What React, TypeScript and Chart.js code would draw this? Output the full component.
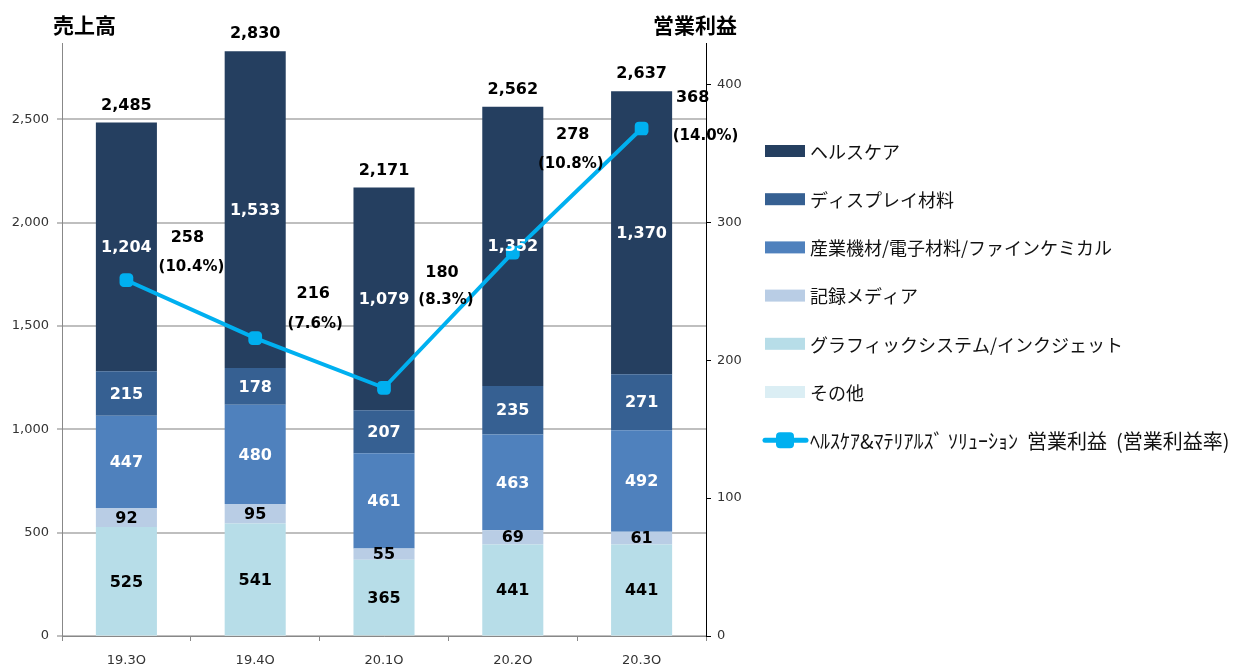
import React, { useEffect, useRef } from "react";
import { Chart, registerables } from "chart.js";

Chart.register(...registerables);

// ---- data ----
const categories = ["19.3Q", "19.4Q", "20.1Q", "20.2Q", "20.3Q"];
const healthcare = [1204, 1533, 1079, 1352, 1370];
const displayMaterials = [215, 178, 207, 235, 271];
const industrial = [447, 480, 461, 463, 492];
const recordingMedia = [92, 95, 55, 69, 61];
const graphicSystems = [525, 541, 365, 441, 441];
const others = [2, 3, 4, 2, 2];
const salesTotals = [2485, 2830, 2171, 2562, 2637];
const operatingProfit = [258, 216, 180, 278, 368];
const operatingMargin = [10.4, 7.6, 8.3, 10.8, 14.0];
const leftTickValues = [0, 500, 1000, 1500, 2000, 2500];
const rightTickValues = [0, 100, 200, 300, 400];

const leftAxisMax = 2870;
const rightAxisMax = 430;

// ---- styles (label placement relative to each line point: [numDx, numDy, pctDx, pctDy]) ----
const profitLabelOffsets = [
  [61, -42, 65, -13],
  [58, -44, 60, -14],
  [58, -115, 62, -88],
  [60, -118, 58, -89],
  [51, -31, 64, 8],
];

const NUM_FONT = "'DejaVu Sans', Verdana, sans-serif";
const JP_FONT = "'Noto Sans CJK JP', sans-serif";
const LINE_COLOR = "#00B0F0";

const fmt = (v: number) => v.toLocaleString("en-US");

const barSeries = [
  { label: "その他", data: others, color: "#DBEEF4", text: "" },
  { label: "グラフィックシステム/インクジェット", data: graphicSystems, color: "#B7DDE8", text: "#000" },
  { label: "記録メディア", data: recordingMedia, color: "#B9CDE5", text: "#000" },
  { label: "産業機材/電子材料/ファインケミカル", data: industrial, color: "#4F81BD", text: "#fff" },
  { label: "ディスプレイ材料", data: displayMaterials, color: "#366092", text: "#fff" },
  { label: "ヘルスケア", data: healthcare, color: "#253F60", text: "#fff" },
];
const lineLabel = "ﾍﾙｽｹｱ&ﾏﾃﾘｱﾙｽﾞ ｿﾘｭｰｼｮﾝ  営業利益  (営業利益率)";

const labelsPlugin = {
  id: "customLabels",
  afterDatasetsDraw(chart: any) {
    const ctx = chart.ctx as CanvasRenderingContext2D;
    ctx.save();
    ctx.textAlign = "center";
    ctx.textBaseline = "middle";
    const nBars = barSeries.length;
    // segment labels
    for (let i = 0; i < nBars; i++) {
      const s = barSeries[i];
      if (!s.text) continue;
      const meta = chart.getDatasetMeta(i);
      meta.data.forEach((bar: any, j: number) => {
        const p = bar.getProps(["x", "y", "base"], true);
        ctx.fillStyle = s.text;
        ctx.font = `bold 16px ${NUM_FONT}`;
        ctx.fillText(fmt(s.data[j]), p.x, (p.y + p.base) / 2 + 1);
      });
    }
    // totals
    const topMeta = chart.getDatasetMeta(nBars - 1);
    topMeta.data.forEach((bar: any, j: number) => {
      const p = bar.getProps(["x", "y"], true);
      ctx.fillStyle = "#000";
      ctx.font = `bold 16px ${NUM_FONT}`;
      ctx.fillText(fmt(salesTotals[j]), p.x, p.y - 17);
    });
    // line labels
    const lineMeta = chart.getDatasetMeta(nBars);
    lineMeta.data.forEach((pt: any, j: number) => {
      const o = profitLabelOffsets[j];
      ctx.fillStyle = "#000";
      ctx.font = `bold 16px ${NUM_FONT}`;
      ctx.fillText(fmt(operatingProfit[j]), pt.x + o[0], pt.y + o[1]);
      ctx.font = `bold 15px ${NUM_FONT}`;
      ctx.fillText(`(${operatingMargin[j].toFixed(1)}%)`, pt.x + o[2], pt.y + o[3]);
    });
    ctx.restore();
  },
  afterDraw(chart: any) {
    const ctx = chart.ctx as CanvasRenderingContext2D;
    ctx.save();
    // axis titles
    ctx.fillStyle = "#000";
    ctx.font = `bold 21px ${JP_FONT}`;
    ctx.textBaseline = "middle";
    ctx.textAlign = "left";
    ctx.fillText("売上高", 53, 25);
    ctx.textAlign = "right";
    ctx.fillText("営業利益", 737, 25);

    // legend
    const x0 = 765;
    let y = 151;
    const step = 48.2;
    ctx.textAlign = "left";
    for (let i = barSeries.length - 1; i >= 0; i--) {
      const s = barSeries[i];
      ctx.fillStyle = s.color;
      ctx.fillRect(x0, y - 6, 40, 12);
      ctx.fillStyle = "#111";
      ctx.font = `18px ${JP_FONT}`;
      ctx.fillText(s.label, 810, y + 1);
      y += step;
    }
    // line legend
    ctx.strokeStyle = LINE_COLOR;
    ctx.lineWidth = 5;
    ctx.lineCap = "round";
    ctx.beginPath();
    ctx.moveTo(765, y);
    ctx.lineTo(806, y);
    ctx.stroke();
    ctx.fillStyle = LINE_COLOR;
    ctx.beginPath();
    (ctx as any).roundRect(776, y - 8, 18, 16, 4);
    ctx.fill();
    ctx.fillStyle = "#111";
    ctx.font = `20px ${JP_FONT}`;
    ctx.fillText(lineLabel, 810, y + 1);
    ctx.restore();
  },
};

export default function App() {
  const ref = useRef<HTMLCanvasElement>(null);
  useEffect(() => {
    const canvas = ref.current!;
    const datasets: any[] = barSeries.map((s) => ({
      type: "bar",
      label: s.label,
      data: s.data,
      backgroundColor: s.color,
      borderWidth: 0,
      yAxisID: "y",
      stack: "sales",
      order: 2,
      barPercentage: 0.474,
      categoryPercentage: 1,
    }));
    datasets.push({
      type: "line",
      label: lineLabel,
      data: operatingProfit,
      yAxisID: "y1",
      borderColor: LINE_COLOR,
      backgroundColor: LINE_COLOR,
      borderWidth: 4,
      pointStyle: "rectRounded",
      pointRadius: 8,
      pointBackgroundColor: LINE_COLOR,
      pointBorderWidth: 0,
      tension: 0,
      order: 0,
    });
    const chart = new Chart(canvas, {
      type: "bar",
      data: { labels: categories, datasets },
      options: {
        responsive: false,
        animation: false,
        devicePixelRatio: 1,
        layout: { padding: { left: 0, top: 43, right: 507, bottom: 0 } },
        plugins: {
          legend: { display: false },
          tooltip: { enabled: false },
        },
        scales: {
          x: {
            stacked: true,
            offset: true,
            grid: {
              display: true,
              drawOnChartArea: false,
              offset: true,
              tickLength: 5,
              color: "#888",
              lineWidth: 1,
            },
            border: { color: "#888", width: 1 },
            ticks: {
              autoSkip: false,
              font: { family: NUM_FONT, size: 13 },
              color: "#333",
              padding: 12,
            },
            afterFit: (s: any) => {
              s.height = 44;
            },
          },
          y: {
            stacked: true,
            position: "left",
            min: 0,
            max: leftAxisMax,
            ticks: {
              autoSkip: false,
              callback: (v: any) => fmt(Number(v)),
              font: { family: NUM_FONT, size: 13 },
              color: "#333",
              padding: 8,
            },
            grid: { color: "#BFBFBF", lineWidth: 2, tickLength: 5 },
            border: { color: "#888", width: 1 },
            afterBuildTicks: (s: any) => {
              s.ticks = leftTickValues.map((v) => ({ value: v }));
            },
            afterFit: (s: any) => {
              s.width = 62;
            },
          },
          y1: {
            position: "right",
            min: 0,
            max: rightAxisMax,
            ticks: {
              autoSkip: false,
              font: { family: NUM_FONT, size: 13 },
              color: "#333",
              padding: 6,
            },
            grid: { drawOnChartArea: false, color: "#000", lineWidth: 1, tickLength: 5 },
            border: { color: "#000", width: 1 },
            afterBuildTicks: (s: any) => {
              s.ticks = rightTickValues.map((v) => ({ value: v }));
            },
            afterFit: (s: any) => {
              s.width = 40;
            },
          },
        },
      } as any,
      plugins: [labelsPlugin],
    });
    return () => chart.destroy();
  }, []);
  return (
    <div
      style={{
        position: "fixed",
        left: 0,
        top: 0,
        width: 1253,
        height: 664,
        overflow: "hidden",
        background: "#fff",
      }}
    >
      <canvas ref={ref} width={1253} height={680} style={{ display: "block", width: 1253, height: 680 }} />
    </div>
  );
}
